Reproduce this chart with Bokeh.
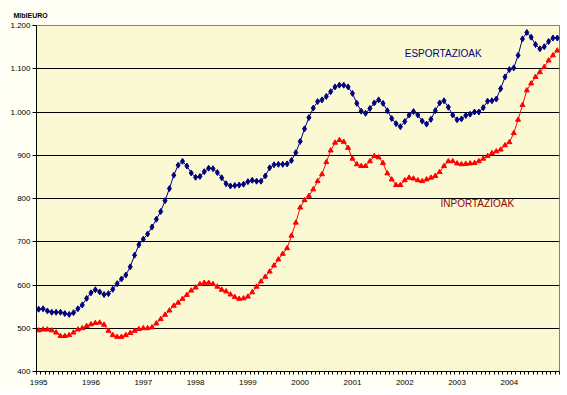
import numpy as np
from bokeh.plotting import figure
from bokeh.models import FixedTicker, Label
from bokeh.embed import file_html
from bokeh.resources import INLINE

# ---- data (monthly, Jan 1995 .. Dec 2004), million euro ----
years = ["1995", "1996", "1997", "1998", "1999", "2000", "2001", "2002", "2003", "2004"]

esportazioak = [
    544, 545, 540, 537, 537, 537, 534, 532, 536, 545, 554, 569,
    582, 589, 584, 578, 580, 590, 603, 614, 623, 642, 669, 693,
    706, 718, 734, 752, 770, 795, 823, 854, 877, 886, 875, 859,
    849, 851, 862, 870, 869, 860, 848, 834, 829, 830, 831, 833,
    839, 842, 840, 840, 852, 871, 878, 879, 879, 880, 888, 906,
    932, 961, 987, 1009, 1024, 1028, 1036, 1047, 1058, 1062, 1062, 1058,
    1043, 1020, 1002, 997, 1008, 1021, 1028, 1020, 1003, 985, 973, 966,
    978, 993, 1001, 993, 979, 972, 983, 1003, 1021, 1026, 1011, 993,
    982, 984, 992, 995, 1000, 1000, 1010, 1025, 1026, 1030, 1054, 1081,
    1098, 1102, 1131, 1169, 1184, 1173, 1156, 1146, 1151, 1163, 1171, 1171,
]

inportazioak = [
    495, 497, 497, 495, 490, 482, 482, 484, 490, 497, 500, 505,
    509, 512, 513, 508, 494, 484, 480, 480, 484, 489, 494, 498,
    500, 500, 502, 511, 521, 531, 541, 552, 559, 568, 577, 587,
    594, 602, 605, 605, 602, 596, 589, 585, 578, 572, 568, 569,
    573, 583, 596, 608, 619, 631, 645, 659, 672, 685, 714, 744,
    779, 796, 806, 821, 840, 856, 884, 911, 929, 935, 931, 917,
    892, 879, 875, 875, 886, 898, 895, 882, 858, 844, 831, 831,
    842, 848, 846, 842, 840, 844, 848, 852, 861, 875, 886, 886,
    881, 879, 880, 881, 882, 886, 892, 898, 905, 909, 913, 923,
    930, 951, 982, 1016, 1050, 1066, 1081, 1092, 1104, 1119, 1131, 1142,
]

y_ticks = [400, 500, 600, 700, 800, 900, 1000, 1100, 1200]
y_tick_labels = ["400", "500", "600", "700", "800", "900", "1.000", "1.100", "1.200"]
unit_label = "MlbIEURO"
export_label = "ESPORTAZIOAK"
import_label = "INPORTAZIOAK"

n = len(esportazioak)
x = np.arange(n)

FONT = "Liberation Sans"

p = figure(width=560, height=387, output_backend="svg", toolbar_location=None,
           x_range=(-0.5, n - 0.5), y_range=(400, 1200),
           min_border_left=36, min_border_right=1, min_border_top=25, min_border_bottom=15)

p.background_fill_color = "#FBF9D3"
p.border_fill_color = "#FFFFF4"
p.outline_line_color = "#808080"
p.outline_line_width = 1

# unit label above the y axis
p.title.text = unit_label
p.title.text_font = FONT
p.title.text_font_size = "7px"
p.title.text_font_style = "bold"
p.title.text_color = "black"
p.title.align = "left"
p.title.offset = -23
p.title.standoff = 13

# x axis: labels every 12 months, small ticks at each month boundary
p.xaxis.ticker = FixedTicker(ticks=[12 * k for k in range(len(years))],
                             minor_ticks=[i - 0.5 for i in range(n + 1)])
p.xaxis.major_label_overrides = {12 * k: y for k, y in enumerate(years)}
p.xaxis.major_tick_line_color = None
p.xaxis.major_tick_out = 0
p.xaxis.major_tick_in = 0
p.xaxis.minor_tick_line_color = "black"
p.xaxis.minor_tick_out = 3
p.xaxis.minor_tick_in = 0
p.xaxis.major_label_standoff = 5

p.yaxis.ticker = FixedTicker(ticks=y_ticks)
p.yaxis.major_label_overrides = {v: s for v, s in zip(y_ticks, y_tick_labels)}
p.yaxis.major_tick_out = 4
p.yaxis.major_tick_in = 0
p.yaxis.minor_tick_line_color = None
p.yaxis.major_label_standoff = 2

for ax in (p.xaxis, p.yaxis):
    ax.axis_line_color = "black"
    ax.major_label_text_font = FONT
    ax.major_label_text_font_size = "8px"
    ax.major_label_text_color = "black"

p.xgrid.grid_line_color = None
p.ygrid.ticker = FixedTicker(ticks=y_ticks[1:-1])
p.ygrid.grid_line_color = "black"
p.ygrid.grid_line_width = 1

# series
p.line(x, esportazioak, line_color="#000080", line_width=1)
p.scatter(x, esportazioak, marker="diamond", size=6, fill_color="#000080", line_color="#000080")
p.line(x, inportazioak, line_color="#FF0000", line_width=1)
p.scatter(x, inportazioak, marker="triangle", size=5, fill_color="#FF0000", line_color="#FF0000")

# series labels
p.add_layout(Label(x=84, y=1135, text=export_label, text_color="#000080",
                   text_font=FONT, text_font_size="10px", text_baseline="middle", text_align="left"))
p.add_layout(Label(x=92.2, y=789, text=import_label, text_color="#990000",
                   text_font=FONT, text_font_size="10px", text_baseline="middle", text_align="left"))

open("out.html", "w").write(file_html(p, INLINE))
